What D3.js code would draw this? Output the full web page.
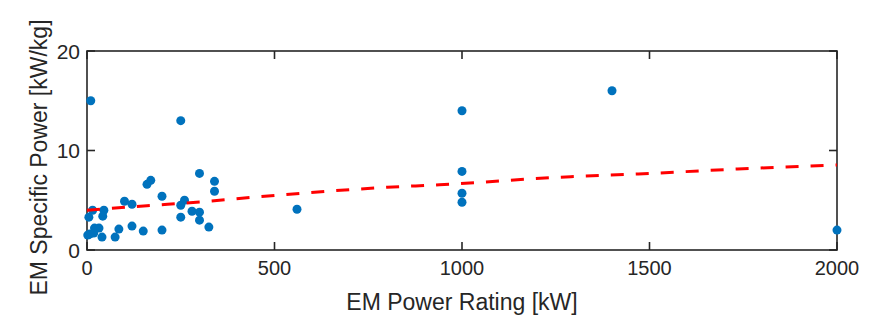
<!DOCTYPE html>
<html>
<head>
<meta charset="utf-8">
<script src="https://cdn.jsdelivr.net/npm/d3@7"></script>
<style>
    body { margin: 0; background: #fff; }
    text { font-family: Arial, "Liberation Sans", sans-serif; fill: #262626; }
</style>
</head>
<body>
<svg id="chart" width="882" height="321"></svg>
<script>
// EM power rating [kW] of each machine
var powerRating = [10, 250, 300, 340, 340, 170, 160, 200, 100, 120, 260, 250, 250, 280, 300, 300, 325,
    120, 85, 75, 150, 200, 45, 42, 15, 5, 2, 20, 32, 18, 7, 40,
    1000, 1000, 1000, 1000, 560, 1400, 2000];
// EM specific power [kW/kg]
var specificPower = [15, 13, 7.7, 6.9, 5.9, 7.0, 6.6, 5.4, 4.9, 4.6, 5.0, 4.5, 3.3, 3.9, 3.8, 3.0, 2.3,
    2.4, 2.1, 1.3, 1.9, 2.0, 4.0, 3.4, 4.0, 3.3, 1.5, 2.2, 2.2, 1.7, 1.6, 1.3,
    14, 7.9, 5.7, 4.8, 4.1, 16, 2];

// trend line
var trendX = [0, 160, 300, 460, 800, 940, 1290, 1470, 1735, 2000];
var trendY = [4.0, 4.45, 4.82, 5.36, 6.3, 6.56, 7.37, 7.64, 8.14, 8.54];

var xTicks = [0, 500, 1000, 1500, 2000];
var yTicks = [0, 10, 20];

var margin = { left: 87, right: 45, top: 51, bottom: 71 };
var svg = d3.select("#chart");
var width = 882 - margin.left - margin.right;
var height = 321 - margin.top - margin.bottom;

var x = d3.scaleLinear().domain([0, 2000]).range([0, width]);
var y = d3.scaleLinear().domain([0, 20]).range([height, 0]);

var g = svg.append("g").attr("transform", "translate(" + margin.left + "," + margin.top + ")");

var axisColor = "#262626";
var tickLen = 8;

// box
g.append("rect")
    .attr("width", width)
    .attr("height", height)
    .attr("fill", "none")
    .attr("stroke", axisColor)
    .attr("stroke-width", 1.6);

// inward ticks on all four sides
xTicks.forEach(function (t) {
    g.append("line").attr("x1", x(t)).attr("x2", x(t)).attr("y1", height).attr("y2", height - tickLen)
        .attr("stroke", axisColor).attr("stroke-width", 1.6);
    g.append("line").attr("x1", x(t)).attr("x2", x(t)).attr("y1", 0).attr("y2", tickLen)
        .attr("stroke", axisColor).attr("stroke-width", 1.6);
    g.append("text")
        .attr("x", x(t))
        .attr("y", height + 25)
        .attr("text-anchor", "middle")
        .style("font-size", "20px")
        .text(t);
});

yTicks.forEach(function (t) {
    g.append("line").attr("x1", 0).attr("x2", tickLen).attr("y1", y(t)).attr("y2", y(t))
        .attr("stroke", axisColor).attr("stroke-width", 1.6);
    g.append("line").attr("x1", width).attr("x2", width - tickLen).attr("y1", y(t)).attr("y2", y(t))
        .attr("stroke", axisColor).attr("stroke-width", 1.6);
    g.append("text")
        .attr("x", -7)
        .attr("y", y(t))
        .attr("dy", "0.36em")
        .attr("text-anchor", "end")
        .style("font-size", "21px")
        .text(t);
});

// scatter points
var points = powerRating.map(function (p, i) { return { x: p, y: specificPower[i] }; });
g.append("g")
    .selectAll("circle")
    .data(points)
    .enter().append("circle")
    .attr("cx", function (d) { return x(d.x); })
    .attr("cy", function (d) { return y(d.y); })
    .attr("r", 4.5)
    .attr("fill", "#0072BD");

// dashed trend
var trend = trendX.map(function (v, i) { return [v, trendY[i]]; });
var line = d3.line()
    .x(function (d) { return x(d[0]); })
    .y(function (d) { return y(d[1]); })
    .curve(d3.curveMonotoneX);
g.append("path")
    .datum(trend)
    .attr("d", line)
    .attr("fill", "none")
    .attr("stroke", "#FF0000")
    .attr("stroke-width", 3)
    .attr("stroke-dasharray", "13,12");

// axis labels
g.append("text")
    .attr("x", width / 2)
    .attr("y", height + 60)
    .attr("text-anchor", "middle")
    .style("font-size", "23px")
    .text("EM Power Rating [kW]");

g.append("text")
    .attr("transform", "rotate(-90)")
    .attr("x", -height / 2 - 7)
    .attr("y", -40)
    .attr("text-anchor", "middle")
    .style("font-size", "23px")
    .text("EM Specific Power [kW/kg]");
</script>
</body>
</html>
